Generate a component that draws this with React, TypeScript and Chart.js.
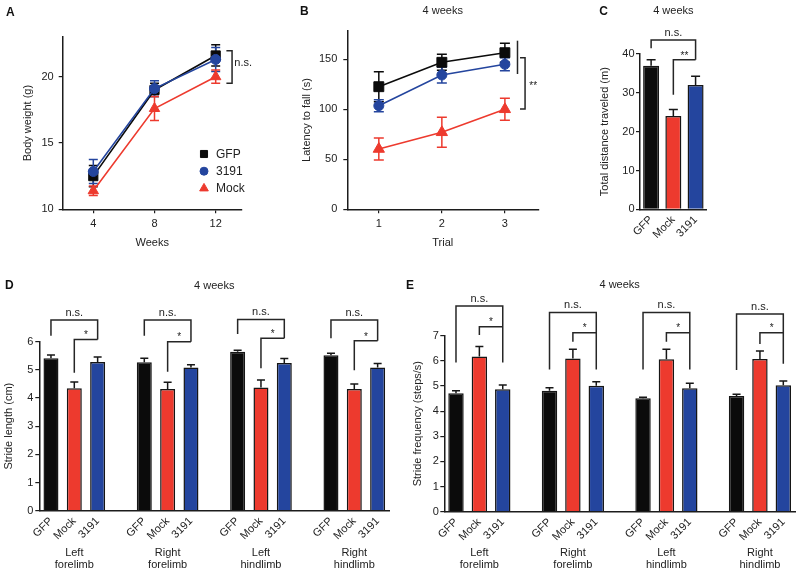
import React, { useEffect, useRef } from 'react';
import { Chart, registerables } from 'chart.js';
import { drawPoint } from 'chart.js/helpers';

Chart.register(...registerables);

const FONT = "'Liberation Sans', Arial, Helvetica, sans-serif";
Chart.defaults.font.family = FONT;
Chart.defaults.font.size = 11;
Chart.defaults.color = '#222';

const BLACK = '#0b0b0b';
const RED = '#ed3a2e';
const BLUE = '#24459e';
const AXIS = '#1c1c1c';
const EDGE = '#161616';
const TEXT = '#222';

// ---------------- data ----------------
// A: body weight
const weeks = [4, 8, 12];
const gfpWeight = [12.5, 19.0, 21.6];
const gfpWeightErr = [0.8, 0.5, 0.8];
const s3191Weight = [12.85, 19.1, 21.3];
const s3191WeightErr = [0.9, 0.6, 0.9];
const mockWeight = [11.4, 17.6, 20.0];
const mockWeightErr = [0.35, 0.9, 0.5];

// B: rotarod latency
const trials = [1, 2, 3];
const gfpLatency = [122.6, 147, 156.6];
const gfpLatencyErr = [15, 8, 9.5];
const s3191Latency = [103.6, 134.3, 145];
const s3191LatencyErr = [6, 8, 6.5];
const mockLatency = [60.3, 77, 100];
const mockLatencyErr = [11, 15, 11];

// C: total distance
const conditions = ['GFP', 'Mock', '3191'];
const distance = [37, 24, 32];
const distanceErr = [1.5, 1.7, 2.3];

// D: stride length
const limbGroups = ['Left forelimb', 'Right forelimb', 'Left hindlimb', 'Right hindlimb'];
const gfpStride = [5.41, 5.27, 5.64, 5.52];
const gfpStrideErr = [0.12, 0.14, 0.06, 0.07];
const mockStride = [4.35, 4.32, 4.37, 4.32];
const mockStrideErr = [0.22, 0.24, 0.27, 0.18];
const s3191Stride = [5.28, 5.08, 5.24, 5.08];
const s3191StrideErr = [0.18, 0.1, 0.16, 0.15];

// E: stride frequency
const gfpFreq = [4.71, 4.81, 4.51, 4.6];
const gfpFreqErr = [0.1, 0.12, 0.04, 0.07];
const mockFreq = [6.17, 6.09, 6.06, 6.07];
const mockFreqErr = [0.4, 0.37, 0.4, 0.32];
const s3191Freq = [4.87, 5.01, 4.91, 5.03];
const s3191FreqErr = [0.17, 0.16, 0.2, 0.17];

// significance bracket levels (data units)
const dNsTop = [6.77, 6.77, 6.79, 6.77];
const dNsLegGfp = [6.21, 6.21, 6.27, 6.12];
const dStarTop = [6.08, 6.0, 6.12, 6.03];
const dStarLegMock = [4.9, 4.93, 5.06, 4.99];

const eNsTop = [8.18, 7.92, 7.92, 7.86];
const eNsLegGfp = [5.93, 5.66, 5.66, 5.64];
const eNsLeg3191 = [5.93, 5.66, 5.66, 5.88];
const eStarTop = [7.36, 7.12, 7.12, 7.12];
const eStarLegMock = [7.03, 6.76, 6.76, 6.67];

// ---------------- helpers ----------------
type Rect = { left: number; top: number; width: number; height: number };
type Area = { left: number; top: number; right: number; bottom: number };

const LH = 11 * 1.2;

function frame(c: Rect, a: Area, yTitleX: number, xTitleY: number | null, titleY: number | null) {
  const tPadTop = titleY != null ? titleY - c.top - LH / 2 : 0;
  return {
    yWidth: a.left - c.left,
    xHeight: c.top + c.height - a.bottom,
    padRight: c.left + c.width - a.right,
    padTop: titleY != null ? 0 : a.top - c.top,
    tPadTop,
    tPadBottom: titleY != null ? a.top - c.top - LH - tPadTop : 0,
    yTitlePad: yTitleX - c.left - LH / 2,
    xTitlePad: xTitleY != null ? c.top + c.height - xTitleY - LH / 2 : 0,
  };
}
type Frame = ReturnType<typeof frame>;

const axisBorder = { display: true, color: AXIS, width: 1.5 };
const tickGrid = { display: true, drawOnChartArea: false, drawTicks: true, tickLength: 4, color: AXIS, lineWidth: 1.2 };
const noGrid = { display: false, drawTicks: false, drawOnChartArea: false };

function yAxis(min: number, max: number, step: number, text: string, f: Frame, tickPad: number) {
  return {
    type: 'linear',
    position: 'left',
    min,
    max,
    border: axisBorder,
    grid: tickGrid,
    ticks: { stepSize: step, includeBounds: false, padding: tickPad, color: TEXT, font: { size: 11 } },
    title: { display: true, text, color: TEXT, font: { size: 11 }, padding: { top: f.yTitlePad, bottom: 0 } },
    afterFit: (s: any) => {
      s.width = f.yWidth;
    },
  };
}

function commonOptions(f: Frame, title: string | null) {
  return {
    responsive: false,
    maintainAspectRatio: false,
    animation: false,
    events: [],
    layout: { padding: { left: 0, right: f.padRight, top: f.padTop, bottom: 0 } },
    plugins: {
      legend: { display: false },
      tooltip: { enabled: false },
      title: title
        ? {
            display: true,
            text: title,
            fullSize: false,
            color: TEXT,
            font: { size: 11, weight: 'normal' },
            padding: { top: f.tPadTop, bottom: f.tPadBottom },
          }
        : { display: false },
    },
  };
}

function drawSigText(ctx: CanvasRenderingContext2D, text: string, x: number, yCenter: number, align: CanvasTextAlign) {
  const star = text.includes('*');
  ctx.font = `${star ? 10 : 11}px ${FONT}`;
  ctx.textAlign = align;
  ctx.textBaseline = 'alphabetic';
  ctx.fillStyle = TEXT;
  ctx.fillText(text, x, yCenter + (star ? 5.7 : 2.9));
}

// ---------------- plugins ----------------
function drawErrors(chart: any, opts: any) {
  const ctx = chart.ctx;
  const ys = chart.scales.y;
  chart.data.datasets.forEach((ds: any, di: number) => {
    const errs = ds.err;
    if (!errs) return;
    const meta = chart.getDatasetMeta(di);
    meta.data.forEach((el: any, i: number) => {
      const e = errs[i];
      const raw = ds.data[i];
      const v = raw == null ? null : typeof raw === 'number' ? raw : raw.y;
      if (e == null || v == null) return;
      const px = el.x;
      const top = ys.getPixelForValue(v + e);
      const bot = opts.mode === 'both' ? ys.getPixelForValue(v - e) : el.y;
      const half = opts.cap / 2;
      ctx.save();
      ctx.strokeStyle = opts.color || ds.borderColor;
      ctx.lineWidth = opts.lineWidth;
      ctx.beginPath();
      ctx.moveTo(px, bot);
      ctx.lineTo(px, top);
      ctx.moveTo(px - half, top);
      ctx.lineTo(px + half, top);
      if (opts.mode === 'both') {
        ctx.moveTo(px - half, bot);
        ctx.lineTo(px + half, bot);
      }
      ctx.stroke();
      ctx.restore();
    });
  });
}

const errorBarsPlugin = {
  id: 'errorBars',
  beforeDatasetsDraw(chart: any, _a: any, opts: any) {
    if (opts && opts.mode === 'both') drawErrors(chart, opts);
  },
  afterDatasetsDraw(chart: any, _a: any, opts: any) {
    if (opts && opts.mode === 'up') drawErrors(chart, opts);
  },
};

const bracketsPlugin = {
  id: 'brackets',
  afterDatasetsDraw(chart: any, _a: any, opts: any) {
    const items = (opts && opts.items) || [];
    const ctx = chart.ctx as CanvasRenderingContext2D;
    const X = (v: number) => chart.scales.x.getPixelForValue(v);
    const Y = (v: number) => chart.scales.y.getPixelForValue(v);
    ctx.save();
    ctx.strokeStyle = '#262626';
    ctx.lineWidth = 1.5;
    ctx.lineJoin = 'miter';
    for (const b of items) {
      ctx.beginPath();
      if (b.kind === 'h') {
        const x1 = X(b.x1);
        const x2 = X(b.x2);
        const yt = Y(b.top);
        ctx.moveTo(x1, Y(b.b1));
        ctx.lineTo(x1, yt);
        ctx.lineTo(x2, yt);
        ctx.lineTo(x2, Y(b.b2));
        ctx.stroke();
        drawSigText(ctx, b.label, (x1 + x2) / 2, yt - 7, 'center');
      } else if (b.kind === 'v') {
        const x = X(b.x);
        const xt = X(b.xTick);
        ctx.moveTo(xt, Y(b.top));
        ctx.lineTo(x, Y(b.top));
        ctx.lineTo(x, Y(b.bottom));
        ctx.lineTo(xt, Y(b.bottom));
        ctx.stroke();
        drawSigText(ctx, b.label, X(b.labelX), Y(b.labelY), b.align);
      } else if (b.kind === 'line') {
        const x = X(b.x);
        ctx.moveTo(x, Y(b.top));
        ctx.lineTo(x, Y(b.bottom));
        ctx.stroke();
      }
    }
    ctx.restore();
  },
};

const letterPlugin = {
  id: 'panelLetter',
  afterDraw(chart: any, _a: any, opts: any) {
    if (!opts || !opts.text) return;
    const ctx = chart.ctx as CanvasRenderingContext2D;
    ctx.save();
    ctx.font = `bold 12px ${FONT}`;
    ctx.fillStyle = '#111';
    ctx.textAlign = 'left';
    ctx.textBaseline = 'alphabetic';
    ctx.fillText(opts.text, opts.x, opts.y);
    ctx.restore();
  },
};

const insideLegendPlugin = {
  id: 'insideLegend',
  afterDraw(chart: any, _a: any, opts: any) {
    if (!opts || !opts.display) return;
    const ctx = chart.ctx as CanvasRenderingContext2D;
    const area = chart.chartArea;
    ctx.save();
    chart.data.datasets.forEach((ds: any, i: number) => {
      const x = area.right + opts.x0;
      const y = area.bottom + opts.y0 + i * opts.dy;
      ctx.fillStyle = ds.backgroundColor;
      ctx.strokeStyle = ds.borderColor;
      drawPoint(ctx, { pointStyle: ds.pointStyle, radius: opts.radius[i], borderWidth: 1, rotation: 0 } as any, x, y);
      ctx.fillStyle = TEXT;
      ctx.font = `12px ${FONT}`;
      ctx.textAlign = 'left';
      ctx.textBaseline = 'middle';
      ctx.fillText(ds.label, x + opts.tx, y + 0.5);
    });
    ctx.restore();
  },
};

const PLUGINS = [errorBarsPlugin, bracketsPlugin, letterPlugin, insideLegendPlugin];

function lineDs(label: string, xs: number[], ys: number[], err: number[], color: string, style: string, r: number, order: number) {
  return {
    label,
    data: xs.map((x, i) => ({ x, y: ys[i] })),
    err,
    order,
    borderColor: color,
    backgroundColor: color,
    pointBackgroundColor: color,
    pointBorderColor: color,
    pointStyle: style,
    pointRadius: r,
    pointBorderWidth: 1,
    borderWidth: 1.6,
    tension: 0,
    clip: false,
  };
}

// grouped limb bars in slots: GFP, Mock, 3191, gap, ...
const SLOTS = limbGroups.length * 4 - 1;
const slotLabels = Array.from({ length: SLOTS }, (_, i) => (i % 4 === 3 ? '' : conditions[i % 4]));
const limbTickLabels = Array.from({ length: SLOTS }, (_, i) =>
  i % 4 === 1 ? limbGroups[(i - 1) / 4].split(' ') : ''
);
const condColors = [BLACK, RED, BLUE];

function toSlots(values: number[], ci: number) {
  const arr: (number | null)[] = Array(SLOTS).fill(null);
  values.forEach((v, g) => {
    arr[g * 4 + ci] = v;
  });
  return arr;
}

function limbBarSets(series: number[][], errs: number[][], pct: number) {
  return series.map((vals, ci) => ({
    label: conditions[ci],
    data: toSlots(vals, ci),
    err: toSlots(errs[ci], ci),
    backgroundColor: condColors[ci],
    borderColor: EDGE,
    borderWidth: 1.5,
    grouped: false,
    barPercentage: pct,
    categoryPercentage: 1,
  }));
}

function limbXScales(xH: number, x2H: number, x2Pad: number) {
  return {
    x: {
      type: 'category',
      position: 'bottom',
      offset: true,
      border: axisBorder,
      grid: noGrid,
      ticks: { autoSkip: false, minRotation: 45, maxRotation: 45, padding: 4, color: TEXT, font: { size: 11 } },
      afterFit: (s: any) => {
        s.height = xH;
      },
    },
    x2: {
      type: 'category',
      position: 'bottom',
      weight: 1,
      labels: limbTickLabels,
      offset: true,
      border: { display: false },
      grid: noGrid,
      ticks: { autoSkip: false, minRotation: 0, maxRotation: 0, padding: x2Pad, color: TEXT, font: { size: 11, lineHeight: 1.12 } },
      afterFit: (s: any) => {
        s.height = x2H;
      },
    },
  };
}

// ---------------- panels ----------------
const rectA: Rect = { left: 0, top: 0, width: 262, height: 258 };
const areaA: Area = { left: 62.7, top: 36.9, right: 241.7, bottom: 209.3 };
const rectB: Rect = { left: 290, top: 0, width: 270, height: 258 };
const areaB: Area = { left: 347.3, top: 30.7, right: 538.3, bottom: 209.3 };
const rectC: Rect = { left: 590, top: 0, width: 135, height: 258 };
const areaC: Area = { left: 640, top: 54, right: 706.7, bottom: 209.3 };
const rectD: Rect = { left: 0, top: 275, width: 400, height: 299 };
const areaD: Area = { left: 39.3, top: 341.7, right: 389.3, bottom: 510.7 };
const rectE: Rect = { left: 400, top: 275, width: 400, height: 299 };
const areaE: Area = { left: 444.3, top: 335.7, right: 795, bottom: 511.7 };

function buildA() {
  const f = frame(rectA, areaA, 28, 243, null);
  const base = commonOptions(f, null);
  return {
    type: 'line',
    data: {
      datasets: [
        lineDs('GFP', weeks, gfpWeight, gfpWeightErr, BLACK, 'rect', 6.5, 1),
        lineDs('3191', weeks, s3191Weight, s3191WeightErr, BLUE, 'circle', 5, 0),
        lineDs('Mock', weeks, mockWeight, mockWeightErr, RED, 'triangle', 6, 2),
      ],
    },
    options: {
      ...base,
      scales: {
        x: {
          type: 'linear',
          min: 2,
          max: 13.7,
          border: axisBorder,
          grid: tickGrid,
          afterBuildTicks: (s: any) => {
            s.ticks = weeks.map((v) => ({ value: v }));
          },
          ticks: { padding: 4, color: TEXT, font: { size: 11 } },
          title: { display: true, text: 'Weeks', color: TEXT, font: { size: 11 }, padding: { top: 0, bottom: f.xTitlePad } },
          afterFit: (s: any) => {
            s.height = f.xHeight;
          },
        },
        y: yAxis(10, 23, 5, 'Body weight (g)', f, 5),
      },
      plugins: {
        ...base.plugins,
        errorBars: { mode: 'both', cap: 9, lineWidth: 1.5 },
        brackets: {
          items: [{ kind: 'v', x: 13.07, xTick: 12.7, top: 21.96, bottom: 19.5, label: 'n.s.', labelX: 13.22, labelY: 21.0, align: 'left' }],
        },
        panelLetter: { text: 'A', x: 6, y: 16 },
        insideLegend: { display: true, x0: -37.7, y0: -55.3, dy: 17.2, tx: 12, radius: [5, 4, 5] },
      },
    },
    plugins: PLUGINS,
  };
}

function buildB() {
  const f = frame(rectB, areaB, 306.7, 242.7, 11);
  const base = commonOptions(f, '4 weeks');
  return {
    type: 'line',
    data: {
      datasets: [
        lineDs('GFP', trials, gfpLatency, gfpLatencyErr, BLACK, 'rect', 7, 0),
        lineDs('3191', trials, s3191Latency, s3191LatencyErr, BLUE, 'circle', 5, 1),
        lineDs('Mock', trials, mockLatency, mockLatencyErr, RED, 'triangle', 6.5, 2),
      ],
    },
    options: {
      ...base,
      scales: {
        x: {
          type: 'linear',
          min: 0.5,
          max: 3.53,
          border: axisBorder,
          grid: tickGrid,
          afterBuildTicks: (s: any) => {
            s.ticks = trials.map((v) => ({ value: v }));
          },
          ticks: { padding: 4, color: TEXT, font: { size: 11 } },
          title: { display: true, text: 'Trial', color: TEXT, font: { size: 11 }, padding: { top: 0, bottom: f.xTitlePad } },
          afterFit: (s: any) => {
            s.height = f.xHeight;
          },
        },
        y: yAxis(0, 178.6, 50, 'Latency to fall (s)', f, 6),
      },
      plugins: {
        ...base.plugins,
        errorBars: { mode: 'both', cap: 10, lineWidth: 1.5 },
        brackets: {
          items: [
            { kind: 'line', x: 3.2, top: 168.6, bottom: 135.3 },
            { kind: 'v', x: 3.32, xTick: 3.24, top: 151.6, bottom: 100.3, label: '**', labelX: 3.45, labelY: 126, align: 'center' },
          ],
        },
        panelLetter: { text: 'B', x: 10, y: 15 },
      },
    },
    plugins: PLUGINS,
  };
}

function buildC() {
  const f = frame(rectC, areaC, 605, null, 11);
  const base = commonOptions(f, '4 weeks');
  return {
    type: 'bar',
    data: {
      labels: conditions,
      datasets: [
        {
          label: 'Total distance',
          data: distance,
          err: distanceErr,
          backgroundColor: condColors,
          borderColor: EDGE,
          borderWidth: 1.5,
          barPercentage: 0.72,
          categoryPercentage: 1,
        },
      ],
    },
    options: {
      ...base,
      scales: {
        x: {
          type: 'category',
          offset: true,
          border: axisBorder,
          grid: noGrid,
          ticks: { autoSkip: false, minRotation: 45, maxRotation: 45, padding: 4, color: TEXT, font: { size: 11 } },
          afterFit: (s: any) => {
            s.height = f.xHeight;
          },
        },
        y: yAxis(0, 40, 10, 'Total distance traveled (m)', f, 1.5),
      },
      plugins: {
        ...base.plugins,
        errorBars: { mode: 'up', cap: 9, lineWidth: 1.5, color: EDGE },
        brackets: {
          items: [
            { kind: 'h', x1: 0, x2: 2, top: 43.6, b1: 41.5, b2: 38.5, label: 'n.s.' },
            { kind: 'h', x1: 1, x2: 2, top: 38.5, b1: 29.5, b2: 38.5, label: '**' },
          ],
        },
        panelLetter: { text: 'C', x: 9.3, y: 15 },
      },
    },
    plugins: PLUGINS,
  };
}

function buildD() {
  const f = frame(rectD, areaD, 9.3, null, 285.7);
  const base = commonOptions(f, '4 weeks');
  const items = limbGroups.flatMap((_, g) => [
    { kind: 'h', x1: g * 4, x2: g * 4 + 2, top: dNsTop[g], b1: dNsLegGfp[g], b2: dStarTop[g], label: 'n.s.' },
    { kind: 'h', x1: g * 4 + 1, x2: g * 4 + 2, top: dStarTop[g], b1: dStarLegMock[g], b2: dStarTop[g], label: '*' },
  ]);
  return {
    type: 'bar',
    data: {
      labels: slotLabels,
      datasets: limbBarSets([gfpStride, mockStride, s3191Stride], [gfpStrideErr, mockStrideErr, s3191StrideErr], 0.643),
    },
    options: {
      ...base,
      scales: {
        ...limbXScales(30, f.xHeight - 30, 5.84),
        y: yAxis(0, 6, 1, 'Stride length (cm)', f, 2),
      },
      plugins: {
        ...base.plugins,
        errorBars: { mode: 'up', cap: 8, lineWidth: 1.5, color: EDGE },
        brackets: { items },
        panelLetter: { text: 'D', x: 5, y: 14.3 },
      },
    },
    plugins: PLUGINS,
  };
}

function buildE() {
  const f = frame(rectE, areaE, 417.5, null, 285);
  const base = commonOptions(f, '4 weeks');
  const items = limbGroups.flatMap((_, g) => [
    { kind: 'h', x1: g * 4, x2: g * 4 + 2, top: eNsTop[g], b1: eNsLegGfp[g], b2: eNsLeg3191[g], label: 'n.s.' },
    { kind: 'h', x1: g * 4 + 1, x2: g * 4 + 2, top: eStarTop[g], b1: eStarLegMock[g], b2: eStarTop[g], label: '*' },
  ]);
  return {
    type: 'bar',
    data: {
      labels: slotLabels,
      datasets: limbBarSets([gfpFreq, mockFreq, s3191Freq], [gfpFreqErr, mockFreqErr, s3191FreqErr], 0.66),
    },
    options: {
      ...base,
      scales: {
        ...limbXScales(29, f.xHeight - 29, 5.84),
        y: yAxis(0, 7, 1, 'Stride frequency (steps/s)', f, 1.5),
      },
      plugins: {
        ...base.plugins,
        errorBars: { mode: 'up', cap: 8, lineWidth: 1.5, color: EDGE },
        brackets: { items },
        panelLetter: { text: 'E', x: 6, y: 14 },
      },
    },
    plugins: PLUGINS,
  };
}

function Panel({ rect, build }: { rect: Rect; build: () => any }) {
  const ref = useRef<HTMLCanvasElement>(null);
  useEffect(() => {
    const chart = new Chart(ref.current as HTMLCanvasElement, build());
    return () => chart.destroy();
  }, []);
  return (
    <canvas
      ref={ref}
      width={rect.width}
      height={rect.height}
      style={{ position: 'absolute', left: rect.left, top: rect.top, width: rect.width, height: rect.height }}
    />
  );
}

export default function App() {
  return (
    <div style={{ position: 'absolute', left: 0, top: 0, width: 800, height: 574, background: '#fff', overflow: 'hidden' }}>
      <Panel rect={rectA} build={buildA} />
      <Panel rect={rectB} build={buildB} />
      <Panel rect={rectC} build={buildC} />
      <Panel rect={rectD} build={buildD} />
      <Panel rect={rectE} build={buildE} />
    </div>
  );
}
